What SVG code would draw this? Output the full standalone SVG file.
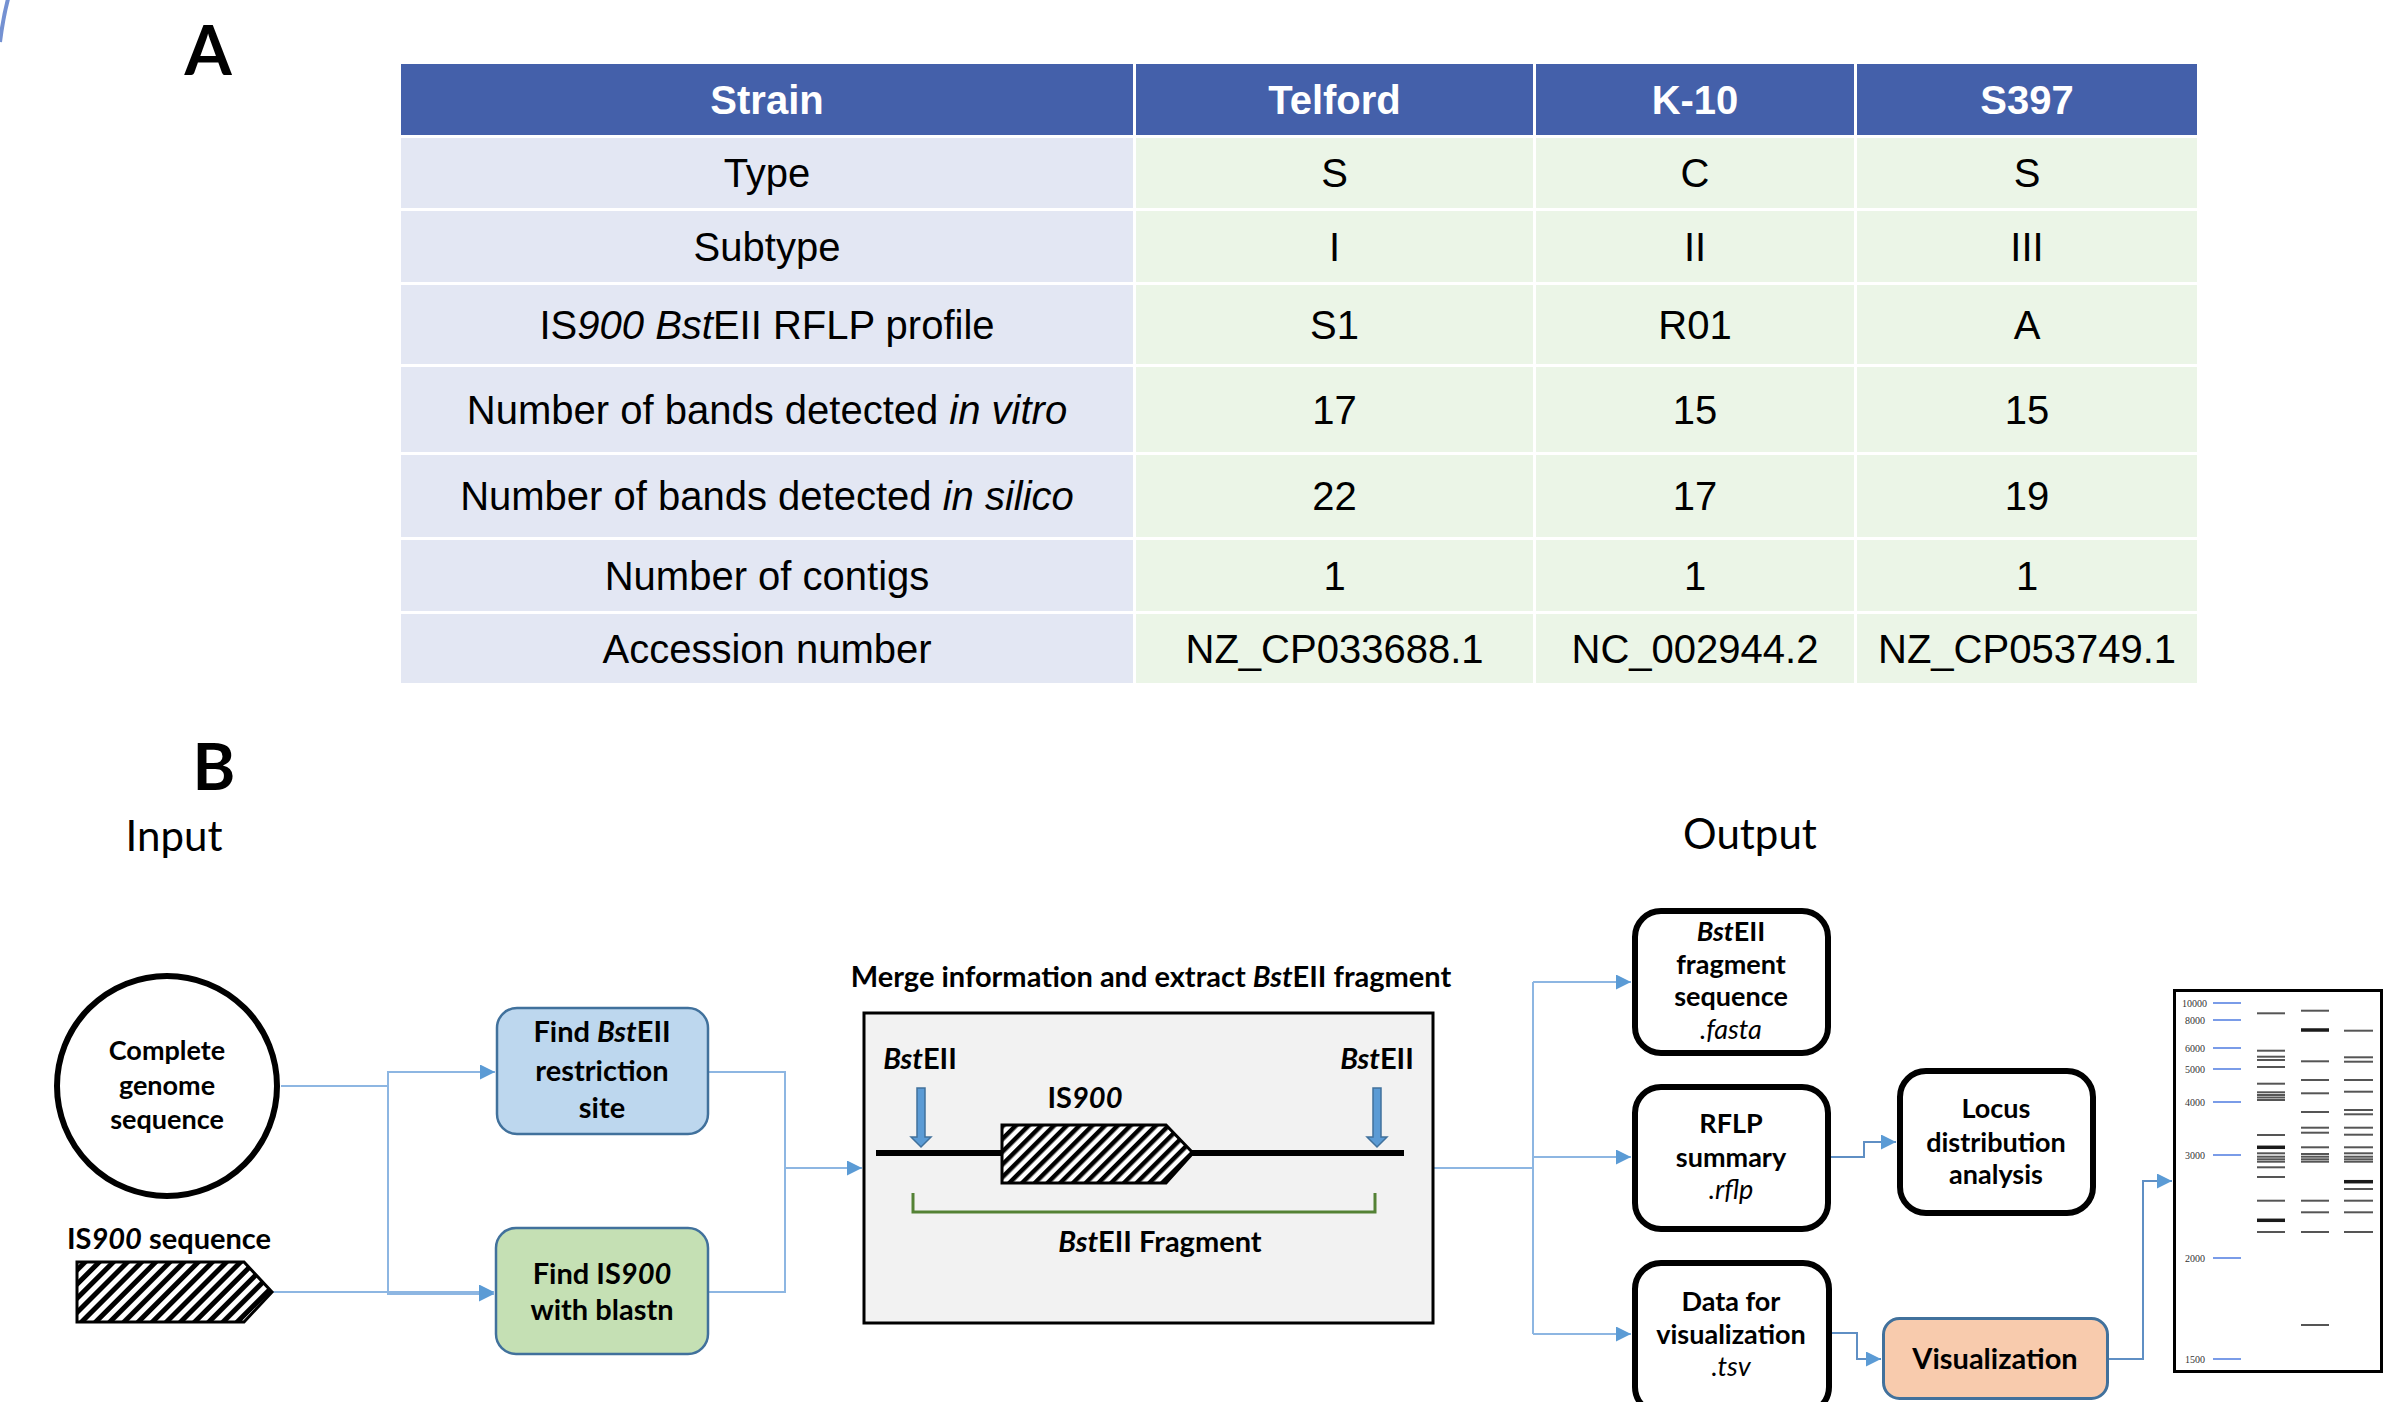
<svg xmlns="http://www.w3.org/2000/svg" width="2401" height="1402" viewBox="0 0 2401 1402">
<style>
.tb{font-family:'Liberation Sans',Arial,sans-serif;font-size:40px;text-anchor:middle;fill:#000}
.th{font-family:'Liberation Sans',Arial,sans-serif;font-size:40px;font-weight:bold;text-anchor:middle;fill:#fff}
.hd{fill:#4460AA}
.c1{fill:#E3E7F3}
.c2{fill:#EBF5E7}
.lb{font-family:Lato,'Open Sans',sans-serif;font-weight:bold;text-anchor:middle;fill:#000}
.ln{font-family:Lato,'Open Sans',sans-serif;font-weight:normal;font-style:italic;text-anchor:middle;fill:#000}
.big{font-family:Lato,'Open Sans',sans-serif;font-size:42px;text-anchor:middle;fill:#000}
.it{font-style:italic}
.con{fill:none;stroke:#8DB6E2;stroke-width:2}
.con2{fill:none;stroke:#5F8FC4;stroke-width:2}
.obox{fill:#fff;stroke:#000;stroke-width:6}
.gl{font-family:'Liberation Serif','Times New Roman',serif;font-size:10px;text-anchor:end;fill:#333}
.lad{stroke:#7A9CE8;stroke-width:2}
.bd{stroke:#555;stroke-width:2}
.bk{stroke:#1a1a1a;stroke-width:3.5}
.dar{fill:#5B9BD5;stroke:#41719C;stroke-width:1.5}
</style>
<defs>
<pattern id="hatch" patternUnits="userSpaceOnUse" width="10" height="10" patternTransform="rotate(45)">
<rect width="10" height="10" fill="#fff"/><rect width="5" height="10" fill="#000"/>
</pattern>
<pattern id="hatch2" patternUnits="userSpaceOnUse" width="9" height="9" patternTransform="rotate(45)">
<rect width="9" height="9" fill="#fff"/><rect width="4.5" height="9" fill="#000"/>
</pattern>
<marker id="ah" viewBox="0 0 10 10" refX="10" refY="5" markerWidth="15" markerHeight="15" markerUnits="userSpaceOnUse" orient="auto">
<path d="M0,0 L10,5 L0,10 z" fill="#5B9BD5"/>
</marker>
</defs>
<rect width="2401" height="1402" fill="#fff"/>
<path d="M8,-1 Q3,18 0,42" fill="none" stroke="#7491D2" stroke-width="4"/>

<!-- Panel A -->
<text x="208" y="75" font-family="Lato,'Open Sans',sans-serif" font-weight="bold" font-size="68" text-anchor="middle">A</text>

<g id="table">
<rect class="hd" x="401" y="64" width="732" height="71"/>
<rect class="hd" x="1136" y="64" width="397" height="71"/>
<rect class="hd" x="1536" y="64" width="318" height="71"/>
<rect class="hd" x="1857" y="64" width="340" height="71"/>
<text class="th" x="767" y="114">Strain</text>
<text class="th" x="1334.5" y="114">Telford</text>
<text class="th" x="1695" y="114">K-10</text>
<text class="th" x="2027" y="114">S397</text>

<rect class="c1" x="401" y="138" width="732" height="70"/>
<rect class="c2" x="1136" y="138" width="397" height="70"/>
<rect class="c2" x="1536" y="138" width="318" height="70"/>
<rect class="c2" x="1857" y="138" width="340" height="70"/>
<text class="tb" x="767" y="187">Type</text>
<text class="tb" x="1334.5" y="187">S</text>
<text class="tb" x="1695" y="187">C</text>
<text class="tb" x="2027" y="187">S</text>

<rect class="c1" x="401" y="211" width="732" height="71"/>
<rect class="c2" x="1136" y="211" width="397" height="71"/>
<rect class="c2" x="1536" y="211" width="318" height="71"/>
<rect class="c2" x="1857" y="211" width="340" height="71"/>
<text class="tb" x="767" y="260.5">Subtype</text>
<text class="tb" x="1334.5" y="260.5">I</text>
<text class="tb" x="1695" y="260.5">II</text>
<text class="tb" x="2027" y="260.5">III</text>

<rect class="c1" x="401" y="285" width="732" height="79"/>
<rect class="c2" x="1136" y="285" width="397" height="79"/>
<rect class="c2" x="1536" y="285" width="318" height="79"/>
<rect class="c2" x="1857" y="285" width="340" height="79"/>
<text class="tb" x="767" y="338.5">IS<tspan class="it">900</tspan> <tspan class="it">Bst</tspan>EII RFLP profile</text>
<text class="tb" x="1334.5" y="338.5">S1</text>
<text class="tb" x="1695" y="338.5">R01</text>
<text class="tb" x="2027" y="338.5">A</text>

<rect class="c1" x="401" y="367" width="732" height="85"/>
<rect class="c2" x="1136" y="367" width="397" height="85"/>
<rect class="c2" x="1536" y="367" width="318" height="85"/>
<rect class="c2" x="1857" y="367" width="340" height="85"/>
<text class="tb" x="767" y="423.5">Number of bands detected <tspan class="it">in vitro</tspan></text>
<text class="tb" x="1334.5" y="423.5">17</text>
<text class="tb" x="1695" y="423.5">15</text>
<text class="tb" x="2027" y="423.5">15</text>

<rect class="c1" x="401" y="455" width="732" height="82"/>
<rect class="c2" x="1136" y="455" width="397" height="82"/>
<rect class="c2" x="1536" y="455" width="318" height="82"/>
<rect class="c2" x="1857" y="455" width="340" height="82"/>
<text class="tb" x="767" y="510">Number of bands detected <tspan class="it">in silico</tspan></text>
<text class="tb" x="1334.5" y="510">22</text>
<text class="tb" x="1695" y="510">17</text>
<text class="tb" x="2027" y="510">19</text>

<rect class="c1" x="401" y="540" width="732" height="71"/>
<rect class="c2" x="1136" y="540" width="397" height="71"/>
<rect class="c2" x="1536" y="540" width="318" height="71"/>
<rect class="c2" x="1857" y="540" width="340" height="71"/>
<text class="tb" x="767" y="589.5">Number of contigs</text>
<text class="tb" x="1334.5" y="589.5">1</text>
<text class="tb" x="1695" y="589.5">1</text>
<text class="tb" x="2027" y="589.5">1</text>

<rect class="c1" x="401" y="614" width="732" height="69"/>
<rect class="c2" x="1136" y="614" width="397" height="69"/>
<rect class="c2" x="1536" y="614" width="318" height="69"/>
<rect class="c2" x="1857" y="614" width="340" height="69"/>
<text class="tb" x="767" y="662.5">Accession number</text>
<text class="tb" x="1334.5" y="662.5">NZ_CP033688.1</text>
<text class="tb" x="1695" y="662.5">NC_002944.2</text>
<text class="tb" x="2027" y="662.5">NZ_CP053749.1</text>
</g>

<!-- Panel B -->
<text x="214" y="790" font-family="Lato,'Open Sans',sans-serif" font-weight="bold" font-size="65" text-anchor="middle">B</text>
<text class="big" x="174" y="851">Input</text>
<text class="big" x="1750" y="849">Output</text>

<g id="connectors">
<path class="con" d="M281,1086 H388 V1072 H495" marker-end="url(#ah)"/>
<path class="con" d="M388,1086 V1294 H494" marker-end="url(#ah)"/>
<path class="con" d="M272,1292 H494" marker-end="url(#ah)"/>
<path class="con" d="M708,1072 H785 V1292 H708"/>
<path class="con" d="M785,1168 H862" marker-end="url(#ah)"/>
<path class="con" d="M1433,1168 H1533"/>
<path class="con" d="M1533,982 V1334"/>
<path class="con" d="M1533,982 H1631" marker-end="url(#ah)"/>
<path class="con" d="M1533,1157 H1631" marker-end="url(#ah)"/>
<path class="con" d="M1533,1334 H1631" marker-end="url(#ah)"/>
<path class="con2" d="M1831,1157 H1864 V1142 H1896" marker-end="url(#ah)"/>
<path class="con2" d="M1831,1333 H1857 V1359 H1881" marker-end="url(#ah)"/>
<path class="con2" d="M2109,1359 H2143 V1181 H2172" marker-end="url(#ah)"/>
</g>

<g id="genome">
<circle cx="167" cy="1086" r="110" fill="#fff" stroke="#000" stroke-width="6"/>
<text class="lb" x="167" y="1060" font-size="27">Complete</text>
<text class="lb" x="167" y="1095" font-size="27">genome</text>
<text class="lb" x="167" y="1129" font-size="27">sequence</text>
</g>

<g id="is900seq">
<text class="lb" x="169" y="1249" font-size="29">IS<tspan class="it">900</tspan> sequence</text>
<polygon points="77,1262 244,1262 272,1292 244,1322 77,1322" fill="url(#hatch)" stroke="#000" stroke-width="3"/>
</g>

<g id="find-bsteii">
<rect x="497" y="1008" width="211" height="126" rx="20" fill="#BDD7EE" stroke="#41719C" stroke-width="2.5"/>
<text class="lb" x="602" y="1042" font-size="29">Find <tspan class="it">Bst</tspan>EII</text>
<text class="lb" x="602" y="1081" font-size="29">restriction</text>
<text class="lb" x="602" y="1118" font-size="29">site</text>
</g>

<g id="find-is900">
<rect x="496" y="1228" width="212" height="126" rx="20" fill="#C5E0B4" stroke="#41719C" stroke-width="2.5"/>
<text class="lb" x="602" y="1284" font-size="29">Find IS<tspan class="it">900</tspan></text>
<text class="lb" x="602" y="1320" font-size="29">with blastn</text>
</g>

<g id="merge">
<text class="lb" x="1151" y="987" font-size="29">Merge information and extract <tspan class="it">Bst</tspan>EII fragment</text>
<rect x="864" y="1013" width="569" height="310" fill="#F2F2F2" stroke="#000" stroke-width="3"/>
<text class="lb" x="920" y="1069" font-size="29"><tspan class="it">Bst</tspan>EII</text>
<text class="lb" x="1377" y="1069" font-size="29"><tspan class="it">Bst</tspan>EII</text>
<text class="lb" x="1085" y="1108" font-size="29">IS<tspan class="it">900</tspan></text>
<polygon class="dar" points="917,1088 925,1088 925,1137 931,1137 921,1147 911,1137 917,1137"/>
<polygon class="dar" points="1373,1088 1381,1088 1381,1137 1387,1137 1377,1147 1367,1137 1373,1137"/>
<line x1="876" y1="1153" x2="1404" y2="1153" stroke="#000" stroke-width="6"/>
<polygon points="1002,1125 1166,1125 1193,1153 1166,1183 1002,1183" fill="url(#hatch2)" stroke="#000" stroke-width="3"/>
<path d="M913,1193 V1212 H1375 V1193" fill="none" stroke="#548235" stroke-width="3"/>
<text class="lb" x="1160" y="1252" font-size="29"><tspan class="it">Bst</tspan>EII Fragment</text>
</g>

<g id="fasta">
<rect class="obox" x="1635" y="911" width="193" height="142" rx="26"/>
<text class="lb" x="1731" y="941" font-size="27"><tspan class="it">Bst</tspan>EII</text>
<text class="lb" x="1731" y="974" font-size="27">fragment</text>
<text class="lb" x="1731" y="1006" font-size="27">sequence</text>
<text class="ln" x="1731" y="1039" font-size="27">.fasta</text>
</g>

<g id="rflp">
<rect class="obox" x="1635" y="1087" width="193" height="142" rx="26"/>
<text class="lb" x="1731" y="1133" font-size="27">RFLP</text>
<text class="lb" x="1731" y="1167" font-size="27">summary</text>
<text class="ln" x="1731" y="1199" font-size="27">.rflp</text>
</g>

<g id="tsv">
<rect class="obox" x="1635" y="1263" width="194" height="150" rx="26"/>
<text class="lb" x="1731" y="1311" font-size="27">Data for</text>
<text class="lb" x="1731" y="1344" font-size="27">visualization</text>
<text class="ln" x="1731" y="1376" font-size="27">.tsv</text>
</g>

<g id="locus">
<rect class="obox" x="1900" y="1071" width="193" height="142" rx="26"/>
<text class="lb" x="1996" y="1118" font-size="27">Locus</text>
<text class="lb" x="1996" y="1152" font-size="27">distribution</text>
<text class="lb" x="1996" y="1184" font-size="27">analysis</text>
</g>

<g id="visualization">
<rect x="1883.5" y="1318.5" width="224" height="80" rx="16" fill="#F8CBAD" stroke="#41719C" stroke-width="3"/>
<text class="lb" x="1995" y="1369" font-size="29">Visualization</text>
</g>

<g id="gel">
<rect x="2174.5" y="990.5" width="207" height="381" fill="#fff" stroke="#000" stroke-width="3"/>
<text class="gl" x="2207" y="1006.5">10000</text>
<text class="gl" x="2205" y="1023.5">8000</text>
<text class="gl" x="2205" y="1051.5">6000</text>
<text class="gl" x="2205" y="1072.5">5000</text>
<text class="gl" x="2205" y="1105.5">4000</text>
<text class="gl" x="2205" y="1158.5" fill="#FF3B3B">3000</text>
<text class="gl" x="2205" y="1261.5">2000</text>
<text class="gl" x="2205" y="1362.5">1500</text>
<g class="lad">
<line x1="2213" x2="2241" y1="1003" y2="1003"/>
<line x1="2213" x2="2241" y1="1020" y2="1020"/>
<line x1="2213" x2="2241" y1="1048" y2="1048"/>
<line x1="2213" x2="2241" y1="1069" y2="1069"/>
<line x1="2213" x2="2241" y1="1102" y2="1102"/>
<line x1="2213" x2="2241" y1="1155" y2="1155"/>
<line x1="2213" x2="2241" y1="1258" y2="1258"/>
<line x1="2213" x2="2241" y1="1359" y2="1359"/>
</g>
<g class="bd">
<line x1="2257" x2="2285" y1="1013.3" y2="1013.3"/>
<line x1="2257" x2="2285" y1="1050.7" y2="1050.7"/>
<line x1="2257" x2="2285" y1="1056.7" y2="1056.7"/>
<line x1="2257" x2="2285" y1="1060" y2="1060"/>
<line x1="2257" x2="2285" y1="1067" y2="1067"/>
<line x1="2257" x2="2285" y1="1083.7" y2="1083.7"/>
<line x1="2257" x2="2285" y1="1092.3" y2="1092.3"/>
<line x1="2257" x2="2285" y1="1095" y2="1095"/>
<line x1="2257" x2="2285" y1="1097.5" y2="1097.5"/>
<line x1="2257" x2="2285" y1="1100" y2="1100"/>
<line x1="2257" x2="2285" y1="1135" y2="1135"/>
<line x1="2257" x2="2285" y1="1153.3" y2="1153.3"/>
<line x1="2257" x2="2285" y1="1156.7" y2="1156.7"/>
<line x1="2257" x2="2285" y1="1159.3" y2="1159.3"/>
<line x1="2257" x2="2285" y1="1161.7" y2="1161.7"/>
<line x1="2257" x2="2285" y1="1167.3" y2="1167.3"/>
<line x1="2257" x2="2285" y1="1177" y2="1177"/>
<line x1="2257" x2="2285" y1="1200.7" y2="1200.7"/>
<line x1="2257" x2="2285" y1="1232" y2="1232"/>
<line x1="2301" x2="2329" y1="1010.7" y2="1010.7"/>
<line x1="2301" x2="2329" y1="1061.3" y2="1061.3"/>
<line x1="2301" x2="2329" y1="1080" y2="1080"/>
<line x1="2301" x2="2329" y1="1093.3" y2="1093.3"/>
<line x1="2301" x2="2329" y1="1112" y2="1112"/>
<line x1="2301" x2="2329" y1="1127.7" y2="1127.7"/>
<line x1="2301" x2="2329" y1="1132.7" y2="1132.7"/>
<line x1="2301" x2="2329" y1="1147.3" y2="1147.3"/>
<line x1="2301" x2="2329" y1="1154" y2="1154"/>
<line x1="2301" x2="2329" y1="1156.7" y2="1156.7"/>
<line x1="2301" x2="2329" y1="1159.3" y2="1159.3"/>
<line x1="2301" x2="2329" y1="1161.7" y2="1161.7"/>
<line x1="2301" x2="2329" y1="1200.7" y2="1200.7"/>
<line x1="2301" x2="2329" y1="1212.3" y2="1212.3"/>
<line x1="2301" x2="2329" y1="1232" y2="1232"/>
<line x1="2301" x2="2329" y1="1325" y2="1325"/>
<line x1="2344" x2="2373" y1="1030.7" y2="1030.7"/>
<line x1="2344" x2="2373" y1="1057.3" y2="1057.3"/>
<line x1="2344" x2="2373" y1="1061.7" y2="1061.7"/>
<line x1="2344" x2="2373" y1="1080" y2="1080"/>
<line x1="2344" x2="2373" y1="1091.7" y2="1091.7"/>
<line x1="2344" x2="2373" y1="1110" y2="1110"/>
<line x1="2344" x2="2373" y1="1114.3" y2="1114.3"/>
<line x1="2344" x2="2373" y1="1127.7" y2="1127.7"/>
<line x1="2344" x2="2373" y1="1134.7" y2="1134.7"/>
<line x1="2344" x2="2373" y1="1147.3" y2="1147.3"/>
<line x1="2344" x2="2373" y1="1153.3" y2="1153.3"/>
<line x1="2344" x2="2373" y1="1156.7" y2="1156.7"/>
<line x1="2344" x2="2373" y1="1159.3" y2="1159.3"/>
<line x1="2344" x2="2373" y1="1161.7" y2="1161.7"/>
<line x1="2344" x2="2373" y1="1189" y2="1189"/>
<line x1="2344" x2="2373" y1="1200.7" y2="1200.7"/>
<line x1="2344" x2="2373" y1="1212.3" y2="1212.3"/>
<line x1="2344" x2="2373" y1="1232" y2="1232"/>
</g>
<g class="bk">
<line x1="2257" x2="2285" y1="1147.3" y2="1147.3"/>
<line x1="2257" x2="2285" y1="1220.3" y2="1220.3"/>
<line x1="2301" x2="2329" y1="1030" y2="1030"/>
<line x1="2344" x2="2373" y1="1181.7" y2="1181.7"/>
</g>
</g>
</svg>
